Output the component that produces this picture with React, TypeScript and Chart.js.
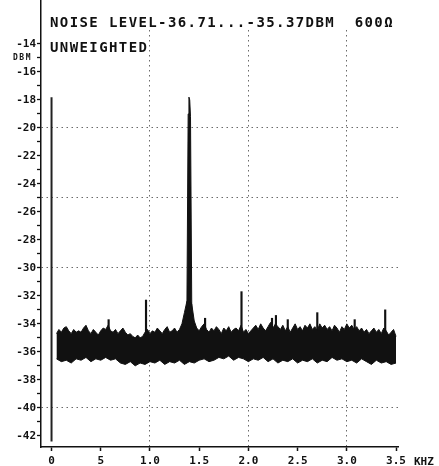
import React, { useEffect, useRef } from 'react';
import { Chart, registerables } from 'chart.js';

Chart.register(...registerables);

// ---- data ----
const titleLines = ['NOISE LEVEL-36.71...-35.37DBM  600Ω', 'UNWEIGHTED'];
const yUnit = 'DBM';
const xUnit = 'KHZ';

const xTickValues = [0, 0.5, 1, 1.5, 2, 2.5, 3, 3.5];
const xTickLabels = ['0', '5', '1.0', '1.5', '2.0', '2.5', '3.0', '3.5'];
const yTickValues = [
  -14, -15, -16, -17, -18, -19, -20, -21, -22, -23, -24, -25, -26, -27, -28,
  -29, -30, -31, -32, -33, -34, -35, -36, -37, -38, -39, -40, -41, -42,
];
const xGridValues = [1, 2, 3];
const yGridValues = [-20, -25, -30, -40];

// noise band: sweep from 0.05 kHz to 3.5 kHz
const bandStart = 0.05;
const upperStep = 0.025;
const lowerStep = 0.05;

// upper edge of the noise band (dBm), every 0.025 kHz
const upperLevels = [
  -34.7, -34.4, -34.6, -34.3, -34.2, -34.5, -34.7, -34.4, -34.6, -34.5,
  -34.6, -34.3, -34.1, -34.5, -34.7, -34.4, -34.6, -34.8, -34.5, -34.3,
  -34.4, -34.1, -34.5, -34.6, -34.4, -34.7, -34.5, -34.3, -34.6, -34.8,
  -34.7, -34.9, -35.0, -34.8, -35.0, -34.9, -34.6, -34.4, -34.7, -34.5,
  -34.6, -34.3, -34.5, -34.7, -34.4, -34.2, -34.6, -34.5, -34.3, -34.6,
  -34.4, -34.0, -33.2, -32.4, -32.2, -32.6, -33.8, -34.3, -34.5, -34.2,
  -34.0, -34.4, -34.6, -34.3, -34.5, -34.2, -34.4, -34.7, -34.3, -34.5,
  -34.2, -34.6, -34.4, -34.3, -34.5, -34.1, -34.6, -34.4, -34.7, -34.5,
  -34.3, -34.1, -34.4, -34.0, -34.3, -34.5, -34.2, -33.9, -34.3, -34.0,
  -34.2, -34.4, -34.1, -34.5, -34.2, -34.6, -34.3, -34.0, -34.4, -34.2,
  -34.5, -34.1, -34.3, -34.0, -34.4, -34.2, -34.5, -34.0, -34.3, -34.1,
  -34.4, -34.2, -34.5, -34.1, -34.3, -34.6, -34.2, -34.4, -34.0, -34.3,
  -34.1, -34.4, -34.2, -34.5, -34.3, -34.6, -34.4, -34.7, -34.5, -34.3,
  -34.6, -34.4, -34.7, -34.3, -34.5, -34.8, -34.6, -34.4, -34.9,
];

// lower edge of the noise band (dBm), every 0.05 kHz
const lowerLevels = [
  -36.5, -36.7, -36.6, -36.8, -36.5, -36.6, -36.4, -36.7, -36.5, -36.6,
  -36.4, -36.6, -36.5, -36.8, -36.9, -36.7, -37.0, -36.8, -36.9, -36.7,
  -36.8, -36.6, -36.9, -36.7, -36.8, -36.6, -36.9, -36.7, -36.8, -36.6,
  -36.5, -36.7, -36.6, -36.4, -36.5, -36.3, -36.6, -36.4, -36.5, -36.7,
  -36.5, -36.6, -36.4, -36.7, -36.5, -36.8, -36.6, -36.7, -36.5, -36.8,
  -36.6, -36.7, -36.5, -36.8, -36.6, -36.7, -36.4, -36.6, -36.5, -36.7,
  -36.6, -36.8, -36.5, -36.7, -36.9, -36.6, -36.8, -36.7, -36.9, -36.8,
];

// main tone near 1.4 kHz
const peakFreqs = [1.374, 1.388, 1.396, 1.404, 1.412, 1.426];
const peakLevels = [-34.2, -19.0, -17.8, -18.0, -19.2, -34.2];
const peakBase = -34.2;

// trace at 0 Hz
const dcFreqs = [0, 0];
const dcLevels = [-42.4, -17.8];

// narrow spurs above the noise
const spikeFreqs = [0.58, 0.96, 1.56, 1.93, 2.24, 2.28, 2.4, 2.7, 3.08, 3.39];
const spikeTops = [-33.7, -32.3, -33.6, -31.7, -33.6, -33.4, -33.7, -33.2, -33.7, -33.0];
const spikeBase = -35.0;

// ---- axis ranges ----
const X_MIN = -0.107;
const X_MAX = 3.52;
const Y_MIN = -42.8;
const Y_MAX = -10.86;

const INK = '#111';
const GRID = '#6a6a6a';
const MONO = '"DejaVu Sans Mono", "Liberation Mono", monospace';

const paperText = {
  id: 'paperText',
  beforeDatasetsDraw(chart: any) {
    const { ctx } = chart;
    const xs = chart.scales.x;
    ctx.save();
    ctx.fillStyle = '#ffffff';
    ctx.fillRect(xs.left + 5, 0, xs.right - xs.left - 5, 28);
    ctx.restore();
  },
  afterDraw(chart: any) {
    const { ctx } = chart;
    const xs = chart.scales.x;
    ctx.save();
    ctx.fillStyle = INK;
    ctx.textBaseline = 'middle';
    ctx.textAlign = 'left';
    ctx.font = `bold 14px ${MONO}`;
    try { ctx.letterSpacing = '1.4px'; } catch (e) {}
    ctx.fillText(titleLines[0], 50, 23);
    ctx.fillText(titleLines[1], 50, 48);
    ctx.font = `bold 8px ${MONO}`;
    try { ctx.letterSpacing = '1.5px'; } catch (e) {}
    ctx.fillText(yUnit, 13, 58);
    ctx.font = `bold 11px ${MONO}`;
    try { ctx.letterSpacing = '0px'; } catch (e) {}
    ctx.fillText(xUnit, 414, xs.top + 15);
    ctx.restore();
  },
};

export default function App() {
  const ref = useRef<HTMLCanvasElement>(null);

  useEffect(() => {
    if (!ref.current) return;
    const upper = upperLevels.map((v, i) => ({ x: bandStart + i * upperStep, y: v }));
    const lower = lowerLevels.map((v, i) => ({ x: bandStart + i * lowerStep, y: v }));
    const peak = peakFreqs.map((f, i) => ({ x: f, y: peakLevels[i] }));
    const dc = dcFreqs.map((f, i) => ({ x: f, y: dcLevels[i] }));
    const spikes = spikeFreqs.map((f, i) => ({ x: f, y: [spikeBase, spikeTops[i]] }));

    const tickFont = { family: MONO, size: 11, weight: 'bold' as const };

    const chart = new Chart(ref.current, {
      type: 'line',
      data: {
        datasets: [
          {
            label: 'lower',
            data: lower,
            borderColor: INK,
            borderWidth: 1,
            pointRadius: 0,
            tension: 0,
            fill: false,
          },
          {
            label: 'upper',
            data: upper,
            borderColor: INK,
            backgroundColor: INK,
            borderWidth: 1,
            pointRadius: 0,
            tension: 0,
            fill: '-1',
          },
          {
            label: 'peak',
            data: peak,
            borderColor: INK,
            backgroundColor: INK,
            borderWidth: 1,
            pointRadius: 0,
            tension: 0,
            fill: { value: peakBase },
          },
          {
            label: 'dc',
            data: dc,
            borderColor: '#222',
            borderWidth: 2,
            pointRadius: 0,
            fill: false,
          },
          {
            type: 'bar',
            label: 'spurs',
            data: spikes as any,
            backgroundColor: INK,
            barThickness: 1.5,
          } as any,
        ],
      },
      options: {
        animation: false,
        responsive: true,
        maintainAspectRatio: false,
        layout: { padding: { left: 0, top: 0, right: 41, bottom: 0 } },
        plugins: {
          legend: { display: false },
          tooltip: { enabled: false },
          title: { display: false },
        },
        scales: {
          x: {
            type: 'linear',
            min: X_MIN,
            max: X_MAX,
            offset: false,
            afterBuildTicks: (s: any) => {
              s.ticks = xTickValues.map((v) => ({ value: v }));
            },
            afterFit: (s: any) => {
              s.height = 19;
              s.paddingLeft = 0;
              s.paddingRight = 0;
            },
            ticks: {
              autoSkip: false,
              maxRotation: 0,
              padding: 4,
              color: INK,
              font: tickFont,
              callback: (v: any) => {
                const i = xTickValues.indexOf(Number(v));
                return i >= 0 ? xTickLabels[i] : '';
              },
            },
            grid: {
              offset: false,
              color: (c: any) => (c.tick && xGridValues.includes(c.tick.value) ? GRID : 'rgba(0,0,0,0)'),
              lineWidth: 1,
              tickColor: INK,
              tickLength: 4,
              tickWidth: 1.5,
            },
            border: { display: true, color: INK, width: 1.5, dash: [1.5, 3.5] },
          },
          y: {
            type: 'linear',
            min: Y_MIN,
            max: Y_MAX,
            afterBuildTicks: (s: any) => {
              s.ticks = yTickValues.map((v) => ({ value: v }));
            },
            afterFit: (s: any) => {
              s.width = 41;
              s.paddingTop = 0;
              s.paddingBottom = 0;
            },
            ticks: {
              autoSkip: false,
              padding: 1,
              color: INK,
              font: tickFont,
              callback: (v: any) => (Number(v) % 2 === 0 ? String(v) : ''),
            },
            grid: {
              color: (c: any) => (c.tick && yGridValues.includes(c.tick.value) ? GRID : 'rgba(0,0,0,0)'),
              lineWidth: 1,
              tickColor: INK,
              tickLength: 4,
              tickWidth: 1.3,
            },
            border: { display: true, color: INK, width: 1.5, dash: [1.5, 3.5] },
          },
        },
      },
      plugins: [paperText],
    });
    return () => chart.destroy();
  }, []);

  return (
    <div style={{ position: 'fixed', left: 0, top: 0, width: 439, height: 466, background: '#fff' }}>
      <canvas ref={ref} />
    </div>
  );
}
